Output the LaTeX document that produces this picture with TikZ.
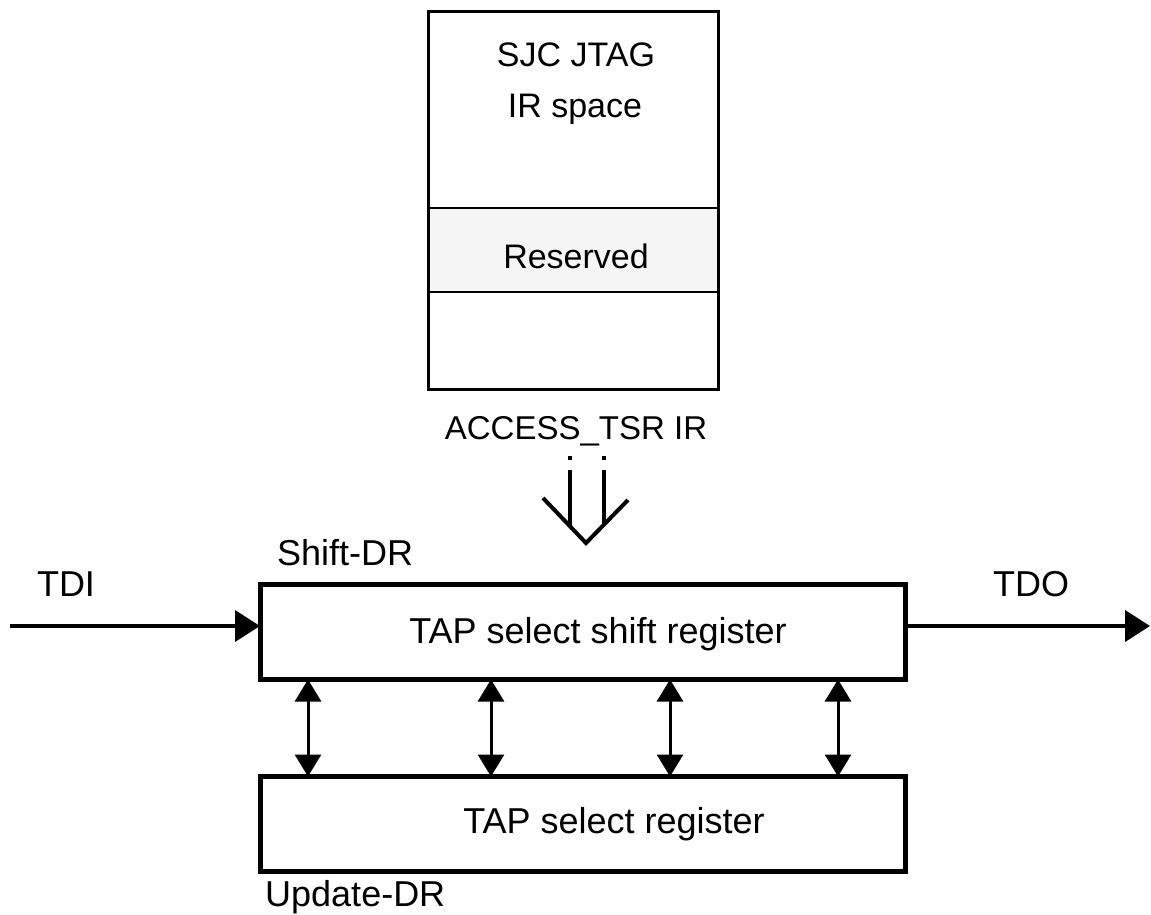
\documentclass[tikz,border=0pt]{standalone}
\usepackage{fontspec}
\setmainfont{Liberation Sans}
\usetikzlibrary{arrows.meta}
\tikzset{
  big/.style={font=\fontsize{36}{40}\selectfont, inner sep=0pt, anchor=base},
  small/.style={font=\fontsize{34}{38}\selectfont, inner sep=0pt, anchor=base},
  regbox/.style={draw, line width=5pt, inner sep=0pt, outer sep=0pt},
  sigarrow/.style={line width=4pt, -{Triangle[length=25pt,width=31pt]}},
  dblarrow/.style={line width=3pt, {Triangle[length=22pt,width=26pt]}-{Triangle[length=22pt,width=26pt]}},
  symline/.style={line width=4pt}
}
\begin{document}
\begin{tikzpicture}[x=1pt,y=-1pt]
\useasboundingbox (0,0) rectangle (1151,915);
% top IR space box
\node[draw, line width=2pt, fill=black!4, minimum width=290pt, minimum height=84pt, inner sep=0pt, outer sep=0pt] (res) at (573,250) {};
\node[draw, line width=3pt, minimum width=290pt, minimum height=377pt, inner sep=0pt, outer sep=0pt] (jtag) at (573,200.5) {};
\node[small] (sjc) at (576,67) {SJC JTAG};
\node[small] (irs) at (575,118) {IR space};
\node[small] (restxt) at (576,268) {Reserved};
\node[big, font=\fontsize{33}{38}\selectfont] (acc) at (576,439) {ACCESS\_TSR IR};
% down arrow symbol
\draw[symline] (570,456) -- (570,460);
\draw[symline] (604,456) -- (604,460);
\draw[symline] (570,470) -- (570,525);
\draw[symline] (604,470) -- (604,525);
\coordinate (tip) at (586,543);
\draw[symline] (543,498) -- (tip) -- (628,500);
% registers
\node[regbox, minimum width=645pt, minimum height=95pt] (shift) at (582.5,632) {};
\node[regbox, minimum width=645pt, minimum height=95pt] (lower) at (582.5,824) {};
\node[big] (shifttxt) at (598,643) {TAP select shift register};
\node[big] (lowertxt) at (614,833) {TAP select register};
\node[big, anchor=base west] (shiftdr) at (277,565) {Shift-DR};
\node[big, anchor=base west] (updr) at (265,906) {Update-DR};
\node[big] (tdi) at (66,596) {TDI};
\node[big] (tdo) at (1031,596) {TDO};
% signal arrows
\coordinate (tdiin) at (10,626);
\coordinate (tdoout) at (1150,626);
\draw[sigarrow] (tdiin) -- (tdiin -| shift.west);
\draw[sigarrow] (tdoout -| shift.east) -- (tdoout);
% vertical double arrows
\foreach \x/\n in {308/a,491/b,670/c,838/d}{
  \coordinate (v\n) at (\x,0);
  \draw[dblarrow] (v\n |- shift.south) -- (v\n |- lower.north);
}
\end{tikzpicture}
\end{document}
